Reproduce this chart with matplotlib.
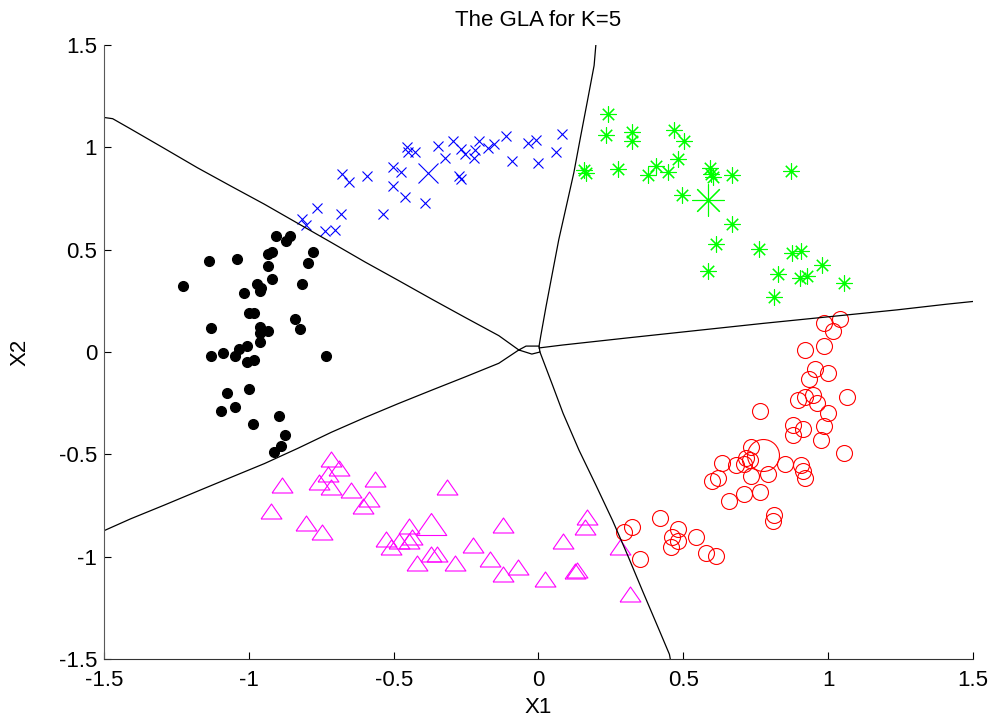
import matplotlib.pyplot as plt
from matplotlib.path import Path

# cluster points
black_x = [-0.907, -0.859, -0.873, -1.136, -1.041, -0.934, -0.920, -0.777, -0.797, -0.935,
           -1.226, -0.971, -0.921, -0.817, -1.018, -0.961, -0.957, -0.998, -0.983, -0.840,
           -1.129, -0.824, -0.963, -0.935, -0.963, -0.962, -1.088, -1.034, -1.006, -1.129,
           -1.046, -1.007, -0.983, -0.734, -1.074, -0.998, -1.095, -1.046, -0.895, -0.984,
           -0.874, -0.888, -0.914]
black_y = [0.569, 0.569, 0.541, 0.446, 0.454, 0.480, 0.490, 0.490, 0.436, 0.418,
           0.324, 0.333, 0.358, 0.332, 0.288, 0.299, 0.315, 0.190, 0.190, 0.163,
           0.119, 0.111, 0.121, 0.103, 0.092, 0.049, -0.003, 0.015, 0.031, -0.021,
           -0.021, -0.049, -0.039, -0.021, -0.198, -0.180, -0.286, -0.268, -0.312, -0.354,
           -0.407, -0.461, -0.487]

blue_x = [-0.680, -0.653, -0.592, -0.503, -0.474, -0.503, -0.460, -0.391, -0.537, -0.682,
          -0.764, -0.816, -0.801, -0.738, -0.703, -0.455, -0.451, -0.426, -0.348, -0.322,
          -0.295, -0.266, -0.252, -0.223, -0.218, -0.204, -0.174, -0.154, -0.113, -0.093,
          -0.037, -0.010, -0.002, 0.060, 0.080, -0.276, -0.268]
blue_y = [0.871, 0.833, 0.861, 0.905, 0.881, 0.809, 0.756, 0.729, 0.676, 0.676,
          0.704, 0.652, 0.623, 0.593, 0.598, 1.003, 0.977, 0.977, 1.005, 0.948,
          1.029, 0.994, 0.966, 0.948, 0.985, 1.029, 0.997, 1.018, 1.057, 0.931,
          1.021, 1.036, 0.925, 0.979, 1.065, 0.859, 0.843]

green_x = [0.240, 0.233, 0.323, 0.323, 0.467, 0.502, 0.481, 0.406, 0.377, 0.446,
           0.273, 0.158, 0.164, 0.593, 0.597, 0.602, 0.668, 0.873, 0.495, 0.668,
           0.614, 0.760, 0.874, 0.905, 0.980, 0.586, 0.828, 0.903, 0.926, 1.055, 0.814]
green_y = [1.162, 1.059, 1.075, 1.029, 1.083, 1.031, 0.941, 0.908, 0.863, 0.881,
           0.892, 0.887, 0.873, 0.900, 0.868, 0.854, 0.863, 0.882, 0.766, 0.626,
           0.528, 0.503, 0.484, 0.495, 0.425, 0.396, 0.382, 0.361, 0.373, 0.337, 0.271]

red_x = [0.987, 1.042, 1.015, 0.919, 0.987, 0.953, 1.001, 0.933, 0.897, 0.920,
         0.949, 0.961, 1.065, 1.001, 0.764, 0.878, 0.912, 0.878, 0.987, 0.975,
         1.056, 0.732, 0.718, 0.730, 0.710, 0.681, 0.634, 0.732, 0.794, 0.850,
         0.905, 0.912, 0.919, 0.621, 0.599, 0.710, 0.765, 0.656, 0.814, 0.808,
         0.419, 0.322, 0.294, 0.481, 0.462, 0.482, 0.459, 0.544, 0.577, 0.614, 0.349]
red_y = [0.144, 0.160, 0.104, 0.010, 0.029, -0.085, -0.104, -0.132, -0.235, -0.219,
         -0.211, -0.247, -0.219, -0.298, -0.289, -0.358, -0.377, -0.403, -0.361, -0.431,
         -0.492, -0.464, -0.518, -0.529, -0.549, -0.550, -0.543, -0.606, -0.598, -0.546,
         -0.554, -0.582, -0.616, -0.614, -0.632, -0.693, -0.685, -0.729, -0.796, -0.824,
         -0.809, -0.853, -0.877, -0.864, -0.905, -0.922, -0.952, -0.905, -0.984, -0.995, -1.011]

mag_x = [-0.717, -0.689, -0.726, -0.758, -0.717, -0.885, -0.647, -0.564, -0.585, -0.607,
         -0.925, -0.801, -0.747, -0.315, -0.448, -0.526, -0.481, -0.446, -0.509, -0.435,
         -0.370, -0.349, -0.419, -0.287, -0.225, -0.169, -0.122, -0.072, -0.121, 0.024,
         0.086, 0.127, 0.134, 0.169, 0.161, 0.281, 0.316]
mag_y = [-0.521, -0.565, -0.595, -0.636, -0.660, -0.652, -0.673, -0.619, -0.717, -0.750,
         -0.775, -0.837, -0.881, -0.660, -0.848, -0.915, -0.922, -0.922, -0.951, -0.905,
         -0.987, -0.987, -1.033, -1.033, -0.941, -1.011, -1.085, -1.049, -0.845, -1.109,
         -0.925, -1.072, -1.065, -0.804, -0.853, -0.951, -1.180]

# codebook vectors (big markers)
blue_c = (-0.383, 0.876)
green_c = (0.586, 0.742)
red_c = (0.774, -0.501)
mag_c = (-0.370, -0.840)

# decision boundaries
bnd_a_x = [-1.5, -1.47, -1.408, -1.292, -1.177, -1.061, -0.946, -0.830, -0.715, -0.599, -0.484, -0.368, -0.252, -0.137, -0.068]
bnd_a_y = [1.146, 1.140, 1.090, 0.995, 0.900, 0.810, 0.722, 0.628, 0.535, 0.440, 0.350, 0.258, 0.168, 0.080, 0.010]
bnd_b_x = [0.198, 0.192, 0.168, 0.145, 0.122, 0.096, 0.070, 0.048, 0.026, 0.008, 0.002]
bnd_b_y = [1.5, 1.40, 1.220, 1.050, 0.876, 0.712, 0.549, 0.386, 0.222, 0.080, 0.029]
bnd_c_x = [0.002, 0.082, 0.314, 0.545, 0.776, 1.007, 1.238, 1.411, 1.5]
bnd_c_y = [0.020, 0.034, 0.070, 0.105, 0.140, 0.173, 0.206, 0.234, 0.247]
bnd_d_x = [0.005, 0.048, 0.085, 0.140, 0.198, 0.256, 0.306, 0.360, 0.418, 0.452, 0.455]
bnd_d_y = [0.0, -0.160, -0.300, -0.480, -0.650, -0.824, -0.987, -1.170, -1.363, -1.477, -1.5]
bnd_e_x = [-1.5, -1.408, -1.292, -1.177, -1.061, -0.946, -0.830, -0.715, -0.599, -0.484, -0.368, -0.252, -0.137, -0.068]
bnd_e_y = [-0.873, -0.815, -0.748, -0.680, -0.612, -0.545, -0.470, -0.392, -0.320, -0.252, -0.186, -0.121, -0.055, 0.010]
loop_x = [-0.068, -0.043, 0.002, 0.005, -0.023, -0.068]
loop_y = [0.010, 0.029, 0.029, 0.0, -0.010, 0.010]

plt.rcParams['font.family'] = ['Liberation Sans', 'DejaVu Sans']
fs = 16

# flatter triangle like the matlab one
tri = Path([(-1, -0.72), (1, -0.72), (0, 0.72), (-1, -0.72)])
star = (8, 2, 0)

fig = plt.figure(figsize=(9.95, 7.19), dpi=100)
ax = fig.add_axes([0.1045, 0.0834, 0.8734, 0.854])

ax.plot(black_x, black_y, 'o', color='black', ms=7, mec='black')
ax.plot(blue_x, blue_y, 'x', color='blue', ms=6.5, mew=0.8)
ax.plot([blue_c[0]], [blue_c[1]], 'x', color='blue', ms=15, mew=0.8)
ax.plot(green_x, green_y, ls='none', marker=star, color='#00ff00', ms=11.5, mew=0.8)
ax.plot([green_c[0]], [green_c[1]], ls='none', marker=star, color='#00ff00', ms=23, mew=0.8)
ax.plot(red_x, red_y, 'o', mfc='none', mec='red', ms=11.5, mew=0.8)
ax.plot([red_c[0]], [red_c[1]], 'o', mfc='none', mec='red', ms=23, mew=0.8)
ax.plot(mag_x, mag_y, ls='none', marker=tri, mfc='none', mec='magenta', ms=15, mew=0.8)
ax.plot([mag_c[0]], [mag_c[1]], ls='none', marker=tri, mfc='none', mec='magenta', ms=22, mew=0.8)

for bx, by in [(bnd_a_x, bnd_a_y), (bnd_b_x, bnd_b_y), (bnd_c_x, bnd_c_y),
               (bnd_d_x, bnd_d_y), (bnd_e_x, bnd_e_y), (loop_x, loop_y)]:
    ax.plot(bx, by, color='black', lw=0.9)

ax.set_xlim(-1.5, 1.5)
ax.set_ylim(-1.5, 1.5)
ax.set_xticks([-1.5, -1, -0.5, 0, 0.5, 1, 1.5])
ax.set_yticks([-1.5, -1, -0.5, 0, 0.5, 1, 1.5])
ax.set_xticklabels(['-1.5', '-1', '-0.5', '0', '0.5', '1', '1.5'])
ax.set_yticklabels(['-1.5', '-1', '-0.5', '0', '0.5', '1', '1.5'])
ax.spines['top'].set_visible(False)
ax.spines['right'].set_visible(False)
ax.spines['left'].set_color('0.35')
ax.spines['bottom'].set_color('0.2')
ax.tick_params(direction='in', length=5, width=0.8, labelsize=fs)
ax.tick_params(axis='x', pad=8)
ax.tick_params(axis='y', pad=5)

ax.set_title('The GLA for K=5', fontsize=fs, pad=14)
ax.set_xlabel('X1', fontsize=fs, labelpad=4)
ax.set_ylabel('X2', fontsize=fs, labelpad=20)

fig.savefig('out.png', dpi=100)
